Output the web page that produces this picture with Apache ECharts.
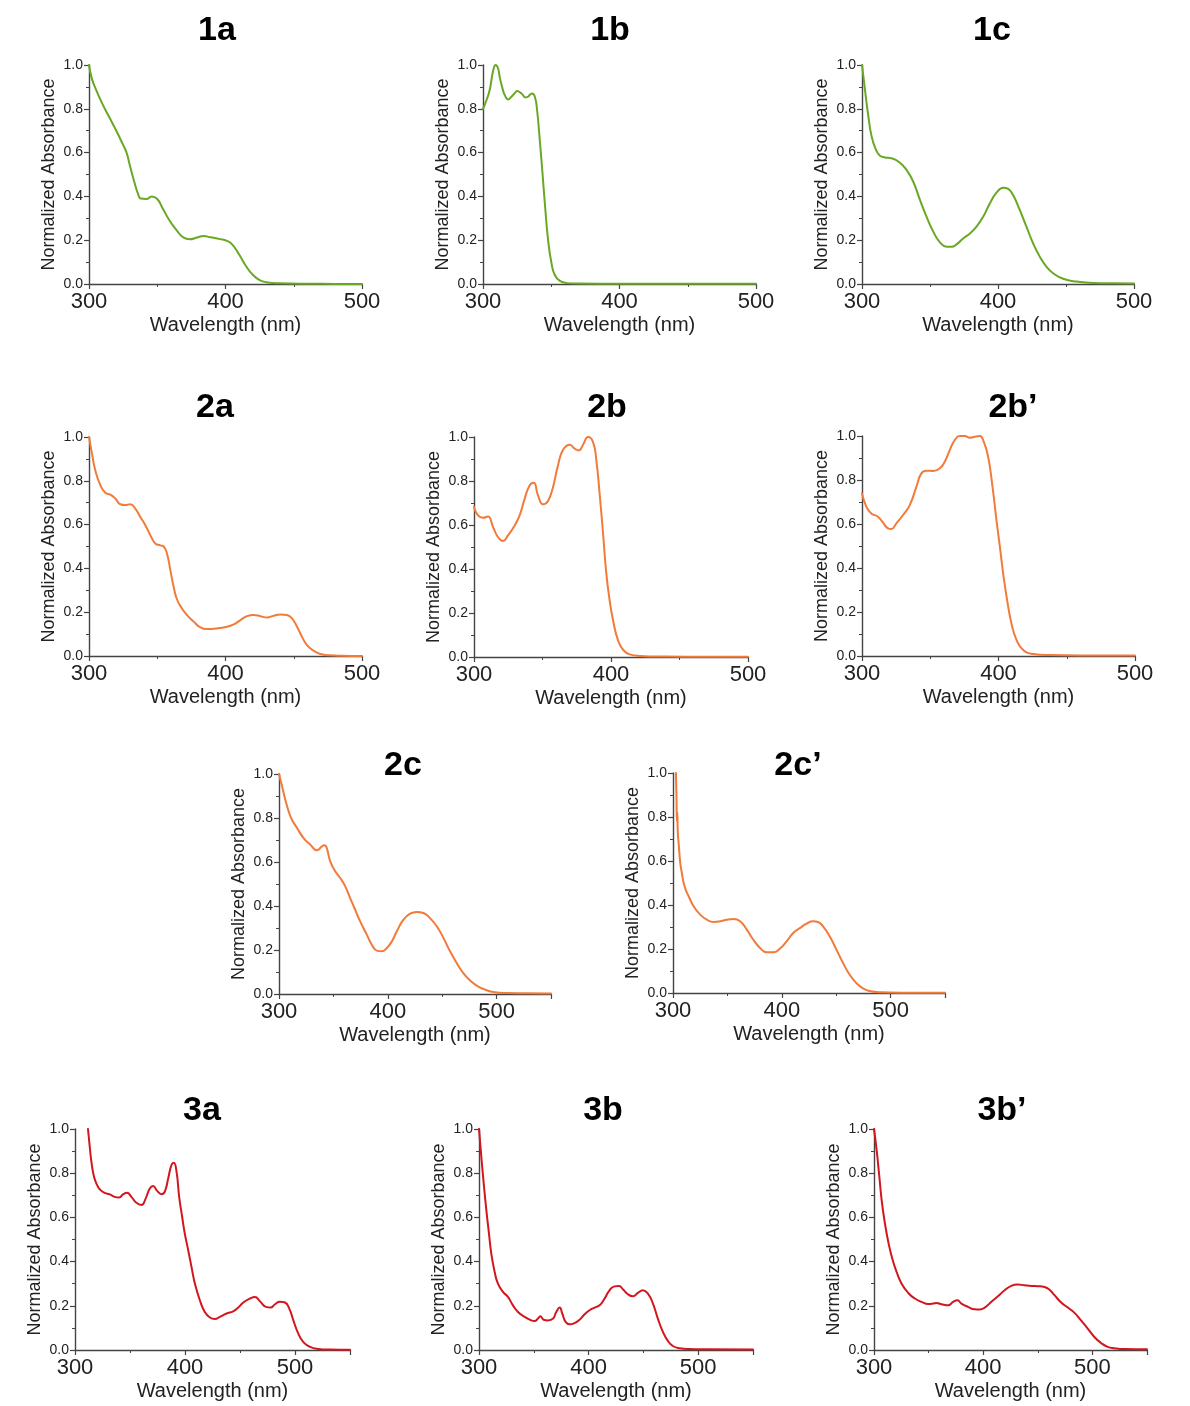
<!DOCTYPE html>
<html>
<head>
<meta charset="utf-8">
<script src="https://cdn.jsdelivr.net/npm/echarts@6/dist/echarts.min.js"></script>
<style>
  html, body { margin: 0; padding: 0; background: #ffffff; }
  #chart { width: 1190px; height: 1406px; }
</style>
</head>
<body>
<div id="chart"></div>
<script>
// Normalized UV-vis absorption spectra, [wavelength (nm), normalized absorbance]
const spectrum1a = [[300,1.0],[302,0.94],[305,0.89],[310,0.82],[315,0.76],[320,0.70],[325,0.635],[327.5,0.60],[330,0.54],[333,0.47],[336,0.41],[338,0.39],[342,0.388],[346,0.40],[350,0.388],[354,0.345],[359,0.29],[364,0.247],[369,0.213],[374,0.204],[379,0.212],[384,0.219],[389,0.213],[396,0.205],[401,0.197],[405,0.18],[410,0.135],[415,0.082],[420,0.042],[425,0.018],[430,0.008],[440,0.003],[460,0.001],[480,0.0005],[500,0.0]];
const spectrum1b = [[300,0.80],[302,0.83],[304.9,0.886],[307.3,0.97],[309.3,1.0],[311,0.985],[312.2,0.947],[314,0.90],[315.9,0.863],[318.4,0.843],[320.8,0.855],[323,0.87],[325,0.881],[328.2,0.87],[331.3,0.852],[333,0.855],[334.5,0.865],[336,0.87],[338,0.855],[339.7,0.79],[341.6,0.657],[343.6,0.505],[345.5,0.353],[347.7,0.20],[350.2,0.094],[352.6,0.041],[356.3,0.014],[361.2,0.004],[370,0.002],[400,0.001],[450,0.001],[500,0.001]];
const spectrum1c = [[300,1.0],[302.2,0.886],[304.7,0.764],[307.1,0.673],[310.3,0.612],[313.2,0.586],[316.9,0.578],[321.8,0.574],[327.9,0.554],[332.8,0.52],[337.7,0.467],[342.6,0.384],[347.5,0.307],[352.4,0.239],[357.3,0.19],[362.2,0.17],[365.9,0.17],[369.5,0.181],[374.4,0.208],[379.3,0.231],[384.2,0.262],[389.1,0.307],[394,0.368],[398.9,0.417],[403.8,0.44],[407.5,0.434],[411.1,0.406],[416,0.338],[420.9,0.262],[425.8,0.186],[430.7,0.125],[435.6,0.079],[440.5,0.049],[447.9,0.024],[457.6,0.011],[470,0.005],[485,0.003],[500,0.002]];
const spectrum2a = [[300,1.0],[302.2,0.924],[304.6,0.848],[308.3,0.78],[312,0.745],[315.6,0.737],[319.3,0.719],[322.9,0.693],[326.6,0.689],[330.3,0.693],[333.9,0.673],[337.6,0.635],[341.3,0.597],[344.9,0.552],[348.6,0.514],[352.3,0.505],[354.7,0.50],[357.1,0.468],[359.6,0.392],[362,0.316],[364.5,0.258],[368.1,0.217],[371.8,0.187],[376.7,0.157],[381.6,0.131],[386.4,0.123],[393.8,0.126],[401.1,0.134],[406,0.144],[410.9,0.164],[415.8,0.182],[420.6,0.187],[425.5,0.182],[430.4,0.176],[435.3,0.184],[440.2,0.19],[445,0.187],[448.7,0.172],[452.4,0.134],[456,0.088],[459.7,0.05],[464.6,0.024],[469.5,0.009],[476.8,0.003],[485,0.001],[500,0.0]];
const spectrum2b = [[300,0.682],[302.9,0.644],[306.6,0.633],[310.2,0.639],[313.9,0.591],[317.5,0.545],[321.2,0.527],[324.8,0.553],[329.7,0.598],[333.3,0.644],[337,0.72],[340.6,0.78],[343.6,0.792],[346.7,0.735],[350.4,0.694],[354,0.709],[357.7,0.773],[361.3,0.871],[365,0.942],[369.8,0.965],[373.5,0.947],[376.6,0.939],[379.6,0.965],[383.2,1.0],[386.9,0.977],[389.3,0.894],[391.7,0.742],[394.2,0.561],[396.6,0.379],[399,0.258],[401.5,0.167],[405.1,0.076],[408.8,0.033],[413.6,0.012],[420.9,0.005],[440,0.002],[470,0.001],[500,0.001]];
const spectrum2bp = [[300,0.739],[303.2,0.679],[306.8,0.648],[311.7,0.633],[315.4,0.606],[319.1,0.58],[321.5,0.577],[325.2,0.603],[330.1,0.641],[335,0.686],[339.9,0.77],[343.5,0.83],[347.2,0.842],[352.1,0.841],[357,0.853],[360.6,0.883],[364.3,0.936],[368,0.982],[371.6,1.0],[375.3,1.0],[379,0.992],[382.6,0.997],[386.3,1.0],[389.2,0.974],[392.4,0.906],[395.6,0.77],[398.5,0.618],[401,0.497],[403.4,0.376],[405.9,0.27],[409.5,0.148],[413.2,0.073],[418.1,0.027],[425.4,0.009],[437.7,0.004],[460,0.002],[500,0.002]];
const spectrum2c = [[300,1.0],[302.8,0.944],[305.8,0.883],[308.9,0.83],[311.9,0.792],[316.5,0.755],[322.6,0.709],[328.7,0.679],[334.9,0.653],[339.4,0.671],[341.5,0.676],[343.4,0.671],[347.1,0.603],[351.7,0.558],[356.3,0.527],[360.9,0.489],[365.4,0.436],[370,0.383],[374.6,0.33],[380.7,0.27],[385.3,0.224],[389.9,0.197],[394.5,0.194],[399.1,0.209],[403.7,0.239],[408.3,0.285],[414.4,0.338],[420.5,0.365],[426.6,0.373],[432.7,0.368],[438.8,0.345],[445,0.308],[451.1,0.255],[457.2,0.194],[463.3,0.141],[469.4,0.095],[475.5,0.062],[481.7,0.038],[487.8,0.023],[496.9,0.009],[509.2,0.004],[525,0.003],[550,0.002]];
const spectrum2cp = [[302.7,1.0],[303.2,0.90],[303.6,0.78],[304.0,0.82],[304.4,0.73],[305.2,0.68],[306.7,0.59],[308,0.55],[309.8,0.50],[312,0.465],[314.4,0.44],[318.9,0.394],[325,0.356],[331.1,0.333],[337.3,0.323],[343.4,0.326],[349.5,0.333],[355.6,0.336],[361.7,0.326],[367.8,0.288],[373.9,0.242],[380,0.205],[386.1,0.185],[392.2,0.185],[398.3,0.202],[404.4,0.235],[410.5,0.273],[416.6,0.295],[422.7,0.315],[428.7,0.326],[433.3,0.323],[437.9,0.303],[444,0.258],[450.2,0.197],[456.3,0.136],[462.4,0.083],[468.5,0.045],[474.6,0.021],[480.8,0.009],[489.9,0.003],[510,0.001],[550,0.001]];
const spectrum3a = [[311.8,1.0],[313.4,0.92],[314.9,0.852],[317,0.79],[319.4,0.754],[322.5,0.727],[327,0.711],[331.6,0.704],[336.1,0.693],[340.1,0.69],[343.7,0.704],[347.3,0.711],[351.3,0.693],[355.8,0.666],[360.4,0.656],[364.3,0.686],[368,0.731],[371,0.742],[374.7,0.72],[378.6,0.705],[381.6,0.716],[384.7,0.776],[387.7,0.837],[389.8,0.847],[392.3,0.807],[394.7,0.693],[397.4,0.603],[399.8,0.527],[402.9,0.452],[405.9,0.376],[409,0.30],[413.5,0.225],[418,0.172],[422.6,0.147],[427.2,0.14],[431.7,0.15],[437.8,0.165],[443.8,0.175],[448.4,0.192],[453,0.215],[459,0.233],[463.6,0.24],[468.2,0.22],[473.6,0.195],[477.8,0.192],[481.8,0.207],[486.3,0.218],[490.9,0.215],[494.8,0.187],[498.5,0.134],[503,0.074],[507.6,0.036],[513.7,0.014],[521.2,0.005],[531.9,0.002],[550,0.001]];
const spectrum3b = [[300,1.0],[302.1,0.875],[304.3,0.754],[306.7,0.633],[309.1,0.527],[311.2,0.437],[314.3,0.353],[317.3,0.30],[321.9,0.263],[326.4,0.24],[331,0.202],[335.6,0.172],[341.6,0.15],[347.7,0.134],[350.8,0.131],[353.8,0.142],[355.9,0.153],[359,0.137],[362.9,0.134],[367.5,0.142],[370.5,0.172],[373.6,0.192],[376,0.165],[379,0.127],[382.7,0.116],[387.2,0.122],[391.8,0.137],[396.4,0.162],[400.9,0.18],[405.5,0.192],[410,0.202],[414.6,0.233],[419.1,0.27],[423.7,0.288],[427.7,0.29],[431.3,0.275],[435.9,0.252],[440.4,0.243],[445,0.258],[449.5,0.27],[454.1,0.255],[458.7,0.21],[463.2,0.142],[467.8,0.082],[472.3,0.041],[476.9,0.018],[483,0.008],[492.1,0.004],[505,0.003],[550,0.002]];
const spectrum3bp = [[300,1.0],[302.4,0.905],[304.9,0.784],[307,0.678],[310,0.573],[313.1,0.489],[316.7,0.414],[320.7,0.353],[325.3,0.30],[331.4,0.258],[337.4,0.233],[343.5,0.218],[349.6,0.208],[354.2,0.21],[357.2,0.213],[361.8,0.207],[367.9,0.202],[372.4,0.218],[376.4,0.225],[380.1,0.21],[386.1,0.195],[392.2,0.184],[396.8,0.183],[401.4,0.192],[407.5,0.218],[413.5,0.243],[419.6,0.27],[425.7,0.29],[431.8,0.296],[437.9,0.293],[444,0.29],[450.1,0.289],[456.2,0.285],[460.7,0.273],[465.3,0.248],[471.4,0.215],[477.5,0.192],[483.6,0.168],[489.6,0.134],[495.7,0.097],[501.8,0.059],[507.9,0.032],[514,0.014],[520.1,0.008],[529.2,0.004],[550,0.003]];

// Compound labels shown above each panel
const compounds = ['1a', '1b', '1c', '2a', '2b', '2b\u2019', '2c', '2c\u2019', '3a', '3b', '3b\u2019'];
const spectra = [spectrum1a, spectrum1b, spectrum1c, spectrum2a, spectrum2b, spectrum2bp, spectrum2c, spectrum2cp, spectrum3a, spectrum3b, spectrum3bp];
// Upper end of each wavelength axis (nm)
const wavelengthMax = [500, 500, 500, 500, 500, 500, 550, 550, 550, 550, 550];
const yTickValues = [0, 0.2, 0.4, 0.6, 0.8, 1.0];

// Panel plot areas and label anchors (px)
const layout = [
  { left: 89,  top: 65,   width: 273, height: 219, tx: 217,  ty: 30.5 },
  { left: 483, top: 65,   width: 273, height: 219, tx: 610,  ty: 30.5 },
  { left: 862, top: 65,   width: 272, height: 219, tx: 992,  ty: 30.5 },
  { left: 89,  top: 437,  width: 273, height: 219, tx: 215,  ty: 407.5 },
  { left: 474, top: 437,  width: 274, height: 220, tx: 607,  ty: 407.5 },
  { left: 862, top: 436,  width: 273, height: 220, tx: 1013, ty: 407.5 },
  { left: 279, top: 774,  width: 272, height: 220, tx: 403,  ty: 765.5 },
  { left: 673, top: 773,  width: 272, height: 220, tx: 798,  ty: 765.5 },
  { left: 75,  top: 1129, width: 275, height: 221, tx: 202,  ty: 1110.5 },
  { left: 479, top: 1129, width: 274, height: 221, tx: 603,  ty: 1110.5 },
  { left: 874, top: 1129, width: 273, height: 221, tx: 1002, ty: 1110.5 }
];
const lineColors = ['#6aa823', '#6aa823', '#6aa823', '#f27a3a', '#f27a3a', '#f27a3a', '#f27a3a', '#f27a3a', '#d2161e', '#d2161e', '#d2161e'];

const FONT = '"Liberation Sans", Arial, Helvetica, sans-serif';
const AXIS_COLOR = '#444';

const grid = [], xAxis = [], yAxis = [], series = [], graphic = [];
layout.forEach((g, i) => {
  grid.push({ left: g.left, top: g.top, width: g.width, height: g.height, containLabel: false });
  xAxis.push({
    gridIndex: i, type: 'value', min: 300, max: wavelengthMax[i], interval: 100,
    name: 'Wavelength (nm)', nameLocation: 'middle', nameGap: 31,
    nameTextStyle: { fontFamily: FONT, fontSize: 20, color: '#222' },
    axisLine: { show: true, lineStyle: { color: AXIS_COLOR, width: 1.4 } },
    axisTick: { show: true, length: 5, lineStyle: { color: AXIS_COLOR, width: 1.2 } },
    minorTick: { show: true, splitNumber: 2, length: 3, lineStyle: { color: AXIS_COLOR, width: 1 } },
    axisLabel: { fontFamily: FONT, fontSize: 22, color: '#222', margin: 7, showMaxLabel: wavelengthMax[i] === 500 },
    splitLine: { show: false }
  });
  yAxis.push({
    gridIndex: i, type: 'value', min: 0, max: 1, interval: 0.2,
    name: 'Normalized Absorbance', nameLocation: 'middle', nameGap: 31,
    nameTextStyle: { fontFamily: FONT, fontSize: 18, color: '#222' },
    axisLine: { show: true, lineStyle: { color: AXIS_COLOR, width: 1.4 } },
    axisTick: { show: true, length: 5, lineStyle: { color: AXIS_COLOR, width: 1.2 } },
    minorTick: { show: true, splitNumber: 2, length: 3, lineStyle: { color: AXIS_COLOR, width: 1 } },
    axisLabel: {
      fontFamily: FONT, fontSize: 14, color: '#222', margin: 6,
      formatter: v => (yTickValues.some(t => Math.abs(t - v) < 1e-9) ? v.toFixed(1) : '')
    },
    splitLine: { show: false }
  });
  series.push({
    type: 'line', xAxisIndex: i, yAxisIndex: i, data: spectra[i],
    showSymbol: false, smooth: true, silent: true,
    lineStyle: { color: lineColors[i], width: 2, cap: 'round', join: 'round' }
  });
  graphic.push({
    type: 'text', x: g.tx, y: g.ty, silent: true,
    style: {
      text: compounds[i], fontFamily: FONT, fontSize: 34, fontWeight: 'bold',
      fill: '#000', align: 'center', verticalAlign: 'middle'
    }
  });
});

const chart = echarts.init(document.getElementById('chart'), null, { renderer: 'canvas' });
chart.setOption({
  animation: false,
  backgroundColor: '#ffffff',
  grid, xAxis, yAxis, series, graphic
});
</script>
</body>
</html>
